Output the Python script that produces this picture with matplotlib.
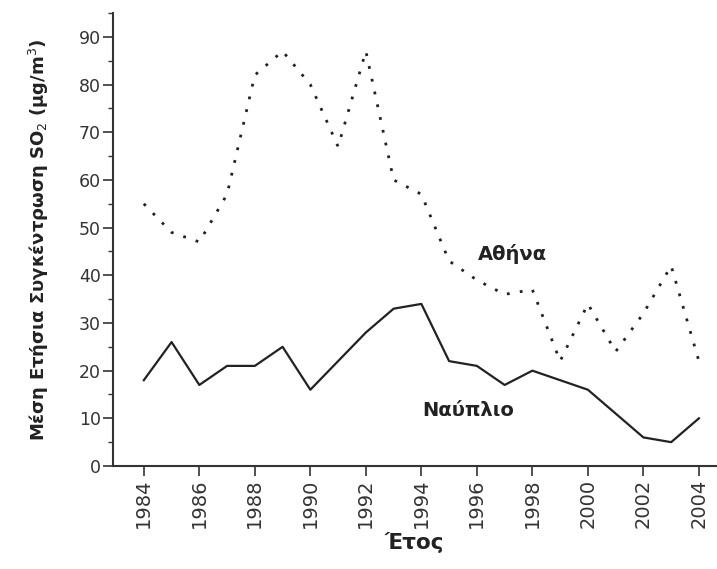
import matplotlib.pyplot as plt
from matplotlib.ticker import MultipleLocator

plt.rcParams['font.family'] = ['DejaVu Sans']

# yearly mean SO2 concentration
years = list(range(1984, 2005))
athens = [55, 49, 47, 57, 82, 87, 80, 67, 87, 60, 57, 43, 39, 36, 37, 22, 34, 24, 32, 42, 22]
nafplio = [18, 26, 17, 21, 21, 25, 16, 22, 28, 33, 34, 22, 21, 17, 20, 18, 16, 11, 6, 5, 10]

xticks = list(range(1984, 2005, 2))

fig = plt.figure(figsize=(7.17, 5.69), dpi=100)
ax = fig.add_axes([0.158, 0.181, 0.84, 0.796])

ax.plot(years, athens, color='#222222', lw=2.0, linestyle=(0, (1, 3.7)))
ax.plot(years, nafplio, color='#222222', lw=1.6)

ax.text(1997.3, 44.5, 'Αθήνα', fontsize=14, fontweight='bold', ha='center', va='center', color='#222222')
ax.text(1995.7, 11.7, 'Ναύπλιο', fontsize=14, fontweight='bold', ha='center', va='center', color='#222222')

ax.set_xlim(1982.9, 2004.6)
ax.set_ylim(0, 95)
ax.set_xticks(xticks)
ax.set_xticklabels([str(y) for y in xticks], rotation=90)
ax.set_yticks([0, 10, 20, 30, 40, 50, 60, 70, 80, 90])
ax.yaxis.set_minor_locator(MultipleLocator(5))

for s in ['top', 'right']:
    ax.spines[s].set_visible(False)
for s in ['left', 'bottom']:
    ax.spines[s].set_linewidth(1.5)
    ax.spines[s].set_color('#333333')

ax.tick_params(axis='both', which='major', direction='out', length=7, width=1.2,
               colors='#333333', pad=2)
ax.tick_params(axis='y', which='major', labelsize=12.5)
ax.tick_params(axis='x', which='major', labelsize=14)
ax.tick_params(axis='y', which='minor', direction='out', length=3.5, width=1.0, colors='#333333')

ax.set_ylabel('Μέση Ετήσια Συγκέντρωση SO$_2$ (μg/m$^3$)', fontsize=13,
              fontweight='bold', color='#222222', labelpad=20)
ax.set_xlabel('Έτος', fontsize=15.5, fontweight='bold', color='#222222', labelpad=3)

fig.savefig('out.png', dpi=100)
